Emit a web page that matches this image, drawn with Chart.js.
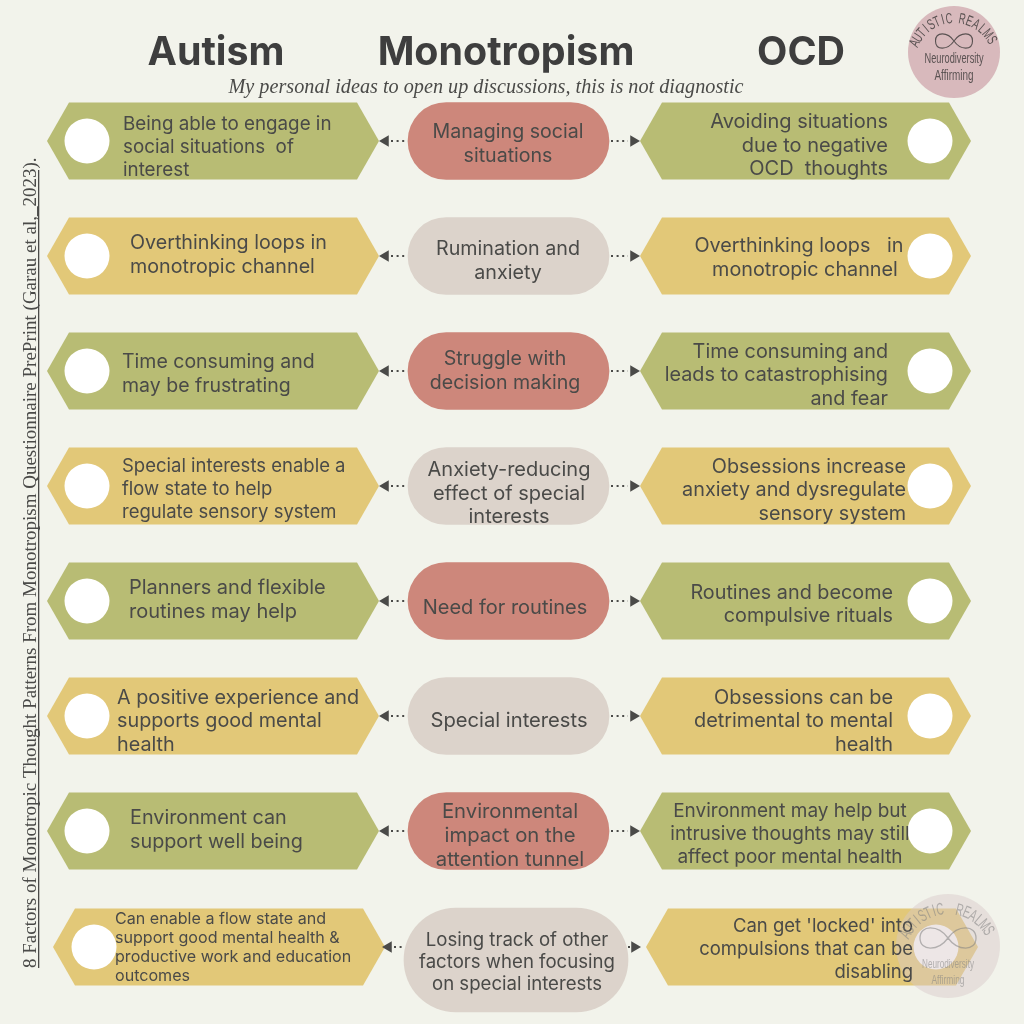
<!DOCTYPE html>
<html>
<head>
<meta charset="utf-8">
<title>Autism, Monotropism, OCD</title>
<script src="https://cdn.jsdelivr.net/npm/chart.js@4"></script>
<style>
  html, body { margin: 0; padding: 0; background: #f2f3eb; }
  canvas { display: block; }
</style>
</head>
<body>
<canvas id="chart" width="1024" height="1024"></canvas>
<script>
// row values
const rowY = [141, 256, 371, 486, 601, 716, 831, 947];
const leftStart = [47, 47, 47, 47, 47, 47, 47, 53];
const leftEnd = [379, 379, 379, 379, 379, 379, 379, 385];
const rightStart = [640, 640, 640, 640, 640, 640, 640, 646];
const rightEnd = [971, 971, 971, 971, 971, 971, 971, 978];
const pillStart = [408, 408, 408, 408, 408, 408, 408];
const pillEnd = [609, 609, 609, 609, 609, 609, 609];
const lastPill = { y: 960, from: 404, to: 628 };
const leftDotX = [87, 87, 87, 87, 87, 87, 87, 94];
const rightDotX = [930, 930, 930, 930, 930, 930, 930, 936];
const leftArrowTip = [379, 379, 379, 379, 379, 379, 379, 382];
const rightArrowTip = [640, 640, 640, 640, 640, 640, 640, 641];
const leftLinkFrom = [391, 391, 391, 391, 391, 391, 391, 394];
const leftLinkTo = [406, 406, 406, 406, 406, 406, 406, 403];
const rightLinkFrom = [611, 611, 611, 611, 611, 611, 611, 628];
const rightLinkTo = [628, 628, 628, 628, 628, 628, 628, 631];

const headers = ["Autism", "Monotropism", "OCD"];
const subtitle = "My personal ideas to open up discussions, this is not diagnostic";
const sideNote = "8 Factors of Monotropic Thought Patterns From Monotropism Questionnaire PrePrint (Garau et al,_2023).";

const leftLabels = [
  ["Being able to engage in", "social situations  of", "interest"],
  ["Overthinking loops in", "monotropic channel"],
  ["Time consuming and", "may be frustrating"],
  ["Special interests enable a", "flow state to help", "regulate sensory system"],
  ["Planners and flexible", "routines may help"],
  ["A positive experience and", "supports good mental", "health"],
  ["Environment can", "support well being"],
  ["Can enable a flow state and", "support good mental health &", "productive work and education", "outcomes"]
];
const centerLabels = [
  ["Managing social", "situations"],
  ["Rumination and", "anxiety"],
  ["Struggle with", "decision making"],
  ["Anxiety-reducing", "effect of special", "interests"],
  ["Need for routines"],
  ["Special interests"],
  ["Environmental", "impact on the", "attention tunnel"],
  ["Losing track of other", "factors when focusing", "on special interests"]
];
const rightLabels = [
  ["Avoiding situations", "due to negative", "OCD  thoughts"],
  ["Overthinking loops   in", "monotropic channel"],
  ["Time consuming and", "leads to catastrophising", "and fear"],
  ["Obsessions increase", "anxiety and dysregulate", "sensory system"],
  ["Routines and become", "compulsive rituals"],
  ["Obsessions can be", "detrimental to mental", "health"],
  ["Environment may help but", "intrusive thoughts may still", "affect poor mental health"],
  ["Can get 'locked' into", "compulsions that can be", "disabling"]
];

const olive = "#b8bc74", yellow = "#e2c878", red = "#cd877b", taupe = "#dcd3cb", ink = "#4a4a48";
const hexColors = [olive, yellow, olive, yellow, olive, yellow, olive, yellow];
const pillColors = [red, taupe, red, taupe, red, taupe, red];

// text placement per row
const leftText = {
  x: [123, 130, 122, 122, 129, 117, 130, 115],
  y: [124, 243, 362, 466, 588, 698, 818, 919],
  lh: [23, 24, 24, 23, 24, 23.5, 24, 19],
  size: [18.8, 19.7, 19.5, 18.5, 20, 19.8, 19.8, 16.1],
  align: "left"
};
const centerText = {
  x: [508, 508, 505, 509, 505, 509, 510, 517],
  y: [132, 249, 359, 470, 608, 721, 812, 940],
  lh: [24, 24, 24, 23.5, 24, 24, 24, 22],
  size: [19.6, 19.7, 19.6, 20, 20, 20.2, 20.3, 18.6],
  align: "center"
};
const rightText = {
  x: [888, 799, 888, 906, 893, 893, 790, 913],
  y: [122, 246, 352, 467, 593, 698, 811, 926],
  lh: [23.5, 24, 23.5, 23.5, 23.5, 23.5, 23, 23],
  size: [20, 19.8, 19.8, 19.8, 19.8, 19.9, 19, 18.5],
  align: ["right", "center", "right", "right", "right", "right", "center", "right"],
  lineShift: { 1: [0, 6] }
};

const bodyFont = "Inter, 'Open Sans', sans-serif";
const logoFont = "'Liberation Sans', sans-serif";

function zip(xs, ys) { return xs.map((x, i) => ({ x: x, y: ys[i] })); }
function ranges(from, to, ys) { return from.map((f, i) => ({ x: [f, to[i]], y: ys[i] })); }
function links(from, to) {
  const pts = [];
  from.forEach((f, i) => { pts.push({ x: f, y: rowY[i] }, { x: to[i], y: rowY[i] }, { x: null, y: null }); });
  return pts;
}

// bars flagged hexagon are drawn with pointed ends instead of a rectangle
const hexagonBars = {
  id: "hexagonBars",
  beforeDatasetDraw(chart, args) {
    if (!chart.data.datasets[args.index].hexagon) return;
    const ctx = chart.ctx;
    args.meta.data.forEach((bar, i) => {
      const top = bar.y - bar.height / 2, bottom = bar.y + bar.height / 2, tip = 22;
      ctx.beginPath();
      ctx.moveTo(bar.base, bar.y);
      ctx.lineTo(bar.base + tip, top);
      ctx.lineTo(bar.x - tip, top);
      ctx.lineTo(bar.x, bar.y);
      ctx.lineTo(bar.x - tip, bottom);
      ctx.lineTo(bar.base + tip, bottom);
      ctx.closePath();
      ctx.fillStyle = hexColors[i];
      ctx.fill();
    });
    return false;
  }
};

function curved(ctx, text, cx, cy, radius, startDeg, stepDeg, squeeze) {
  [...text].forEach((ch, i) => {
    const a = (startDeg + stepDeg * i) * Math.PI / 180;
    ctx.save();
    ctx.translate(cx + radius * Math.sin(a), cy - radius * Math.cos(a));
    ctx.rotate(a);
    ctx.scale(squeeze, 1);
    ctx.fillText(ch, 0, 0);
    ctx.restore();
  });
}

function infinity(ctx, cx, cy, w, h) {
  const a = w / 2, b = h / 2;
  ctx.beginPath();
  ctx.moveTo(cx, cy);
  ctx.bezierCurveTo(cx + a * 0.35, cy - b * 1.35, cx + a, cy - b * 1.35, cx + a, cy);
  ctx.bezierCurveTo(cx + a, cy + b * 1.35, cx + a * 0.35, cy + b * 1.35, cx, cy);
  ctx.bezierCurveTo(cx - a * 0.35, cy - b * 1.35, cx - a, cy - b * 1.35, cx - a, cy);
  ctx.bezierCurveTo(cx - a, cy + b * 1.35, cx - a * 0.35, cy + b * 1.35, cx, cy);
  ctx.stroke();
}

function drawBlock(ctx, lines, spec, i, sx, sy) {
  ctx.font = spec.size[i] + "px " + bodyFont;
  ctx.textAlign = Array.isArray(spec.align) ? spec.align[i] : spec.align;
  const shift = (spec.lineShift && spec.lineShift[i]) || [];
  lines.forEach((line, n) => {
    ctx.fillText(line, sx.getPixelForValue(spec.x[i] + (shift[n] || 0)), sy.getPixelForValue(spec.y[i] + n * spec.lh[i]));
  });
}

function drawLogo(ctx, o) {
  ctx.save();
  ctx.fillStyle = o.color;
  ctx.strokeStyle = o.color;
  ctx.textAlign = "center";
  ctx.textBaseline = "alphabetic";
  ctx.font = o.arcSize + "px " + logoFont;
  curved(ctx, "AUTISTIC", o.x, o.arcY, o.radius, o.start1, o.step1, o.squeeze);
  curved(ctx, "REALMS", o.x, o.arcY, o.radius, o.start2, o.step2, o.squeeze);
  ctx.lineWidth = o.lw;
  infinity(ctx, o.x, o.infY, o.infW, o.infH);
  ctx.textBaseline = "middle";
  ctx.font = o.size + "px " + logoFont;
  ctx.fillText("Neurodiversity", o.x, o.y1, o.w1);
  ctx.fillText("Affirming", o.x, o.y2, o.w2);
  ctx.restore();
}

const annotations = {
  id: "annotations",
  afterDatasetsDraw(chart) {
    const ctx = chart.ctx, sx = chart.scales.x, sy = chart.scales.y;
    ctx.save();
    ctx.textBaseline = "middle";

    ctx.fillStyle = "#3e3e3e";
    ctx.textAlign = "center";
    ctx.font = "bold 39.4px " + bodyFont;
    ctx.fillText(headers[0], 216, 53);
    ctx.fillText(headers[1], 506, 53);
    ctx.fillText(headers[2], 801, 53);

    ctx.fillStyle = ink;
    ctx.font = "italic 21px 'Liberation Serif', serif";
    ctx.fillText(subtitle, 486, 87, 515);

    rowY.forEach((_, i) => {
      drawBlock(ctx, leftLabels[i], leftText, i, sx, sy);
      drawBlock(ctx, centerLabels[i], centerText, i, sx, sy);
      drawBlock(ctx, rightLabels[i], rightText, i, sx, sy);
    });

    // side note runs bottom to top, underlined
    ctx.save();
    ctx.translate(31, 968);
    ctx.rotate(-Math.PI / 2);
    ctx.textAlign = "left";
    ctx.font = "19px 'Liberation Serif', serif";
    ctx.fillText(sideNote, 0, 0, 816);
    ctx.fillRect(0, 7, 798, 1.3);
    ctx.restore();

    drawLogo(ctx, { x: 954, arcY: 62, radius: 39, start1: -64.6, step1: 8.3, start2: 10.8, step2: 9.85, squeeze: 0.62, arcSize: 15, color: "#5a5252", lw: 1.1, infY: 41, infW: 37, infH: 14, size: 14, y1: 59, w1: 59, y2: 76, w2: 39 });
    drawLogo(ctx, { x: 948, arcY: 957, radius: 43, start1: -61.9, step1: 7.5, start2: 14, step2: 8.6, squeeze: 0.6, arcSize: 17, color: "rgba(130,130,130,0.55)", lw: 1.3, infY: 938, infW: 56, infH: 20, size: 13, y1: 964, w1: 52, y2: 980, w2: 33 });
    ctx.restore();
  }
};

new Chart(document.getElementById("chart"), {
  type: "bar",
  data: {
    datasets: [
      // watermark sits over the last row, so it goes first (drawn last)
      { type: "scatter", data: [{ x: 948, y: 946 }], pointRadius: 52, pointBackgroundColor: "rgba(216,200,200,0.45)", pointBorderWidth: 0, order: 0 },
      { type: "scatter", data: [{ x: 954, y: 52 }], pointRadius: 46, pointBackgroundColor: "#d8b9bc", pointBorderWidth: 0, order: 1 },
      { type: "scatter", data: zip(leftDotX, rowY), pointRadius: 22.5, pointBackgroundColor: "#ffffff", pointBorderWidth: 0, order: 1 },
      { type: "scatter", data: zip(rightDotX, rowY), pointRadius: 22.5, pointBackgroundColor: "#ffffff", pointBorderWidth: 0, order: 1 },
      { type: "scatter", data: zip(leftArrowTip, rowY).map(p => ({ x: p.x + 6.5, y: p.y })), pointStyle: "triangle", rotation: -90, pointRadius: 6.5, pointBackgroundColor: ink, pointBorderWidth: 0, order: 2 },
      { type: "scatter", data: zip(rightArrowTip, rowY).map(p => ({ x: p.x - 6.5, y: p.y })), pointStyle: "triangle", rotation: 90, pointRadius: 6.5, pointBackgroundColor: ink, pointBorderWidth: 0, order: 2 },
      { type: "line", data: links(leftLinkFrom, leftLinkTo), borderColor: ink, borderWidth: 2.2, borderDash: [2, 3.6], pointRadius: 0, spanGaps: false, order: 2 },
      { type: "line", data: links(rightLinkFrom, rightLinkTo), borderColor: ink, borderWidth: 2.2, borderDash: [2, 3.6], pointRadius: 0, spanGaps: false, order: 2 },
      { data: ranges(leftStart, leftEnd, rowY), hexagon: true, barThickness: 77, grouped: false, order: 3 },
      { data: ranges(rightStart, rightEnd, rowY), hexagon: true, barThickness: 77, grouped: false, order: 3 },
      { data: ranges(pillStart, pillEnd, rowY), backgroundColor: pillColors, borderRadius: 39, borderSkipped: false, barThickness: 77, grouped: false, order: 3 },
      { data: [{ x: [lastPill.from, lastPill.to], y: lastPill.y }], backgroundColor: taupe, borderRadius: 52, borderSkipped: false, barThickness: 104, grouped: false, order: 3 }
    ]
  },
  options: {
    indexAxis: "y",
    responsive: false,
    animation: false,
    devicePixelRatio: 1,
    layout: { padding: 0, autoPadding: false },
    scales: {
      x: { type: "linear", min: 0, max: 1024, display: false },
      y: { type: "linear", min: 0, max: 1024, reverse: true, offset: false, display: false }
    },
    plugins: { legend: { display: false }, tooltip: { enabled: false } }
  },
  plugins: [
    { id: "paper", beforeDraw(c) { c.ctx.fillStyle = "#f2f3eb"; c.ctx.fillRect(0, 0, c.width, c.height); } },
    hexagonBars,
    annotations
  ]
});
</script>
</body>
</html>
